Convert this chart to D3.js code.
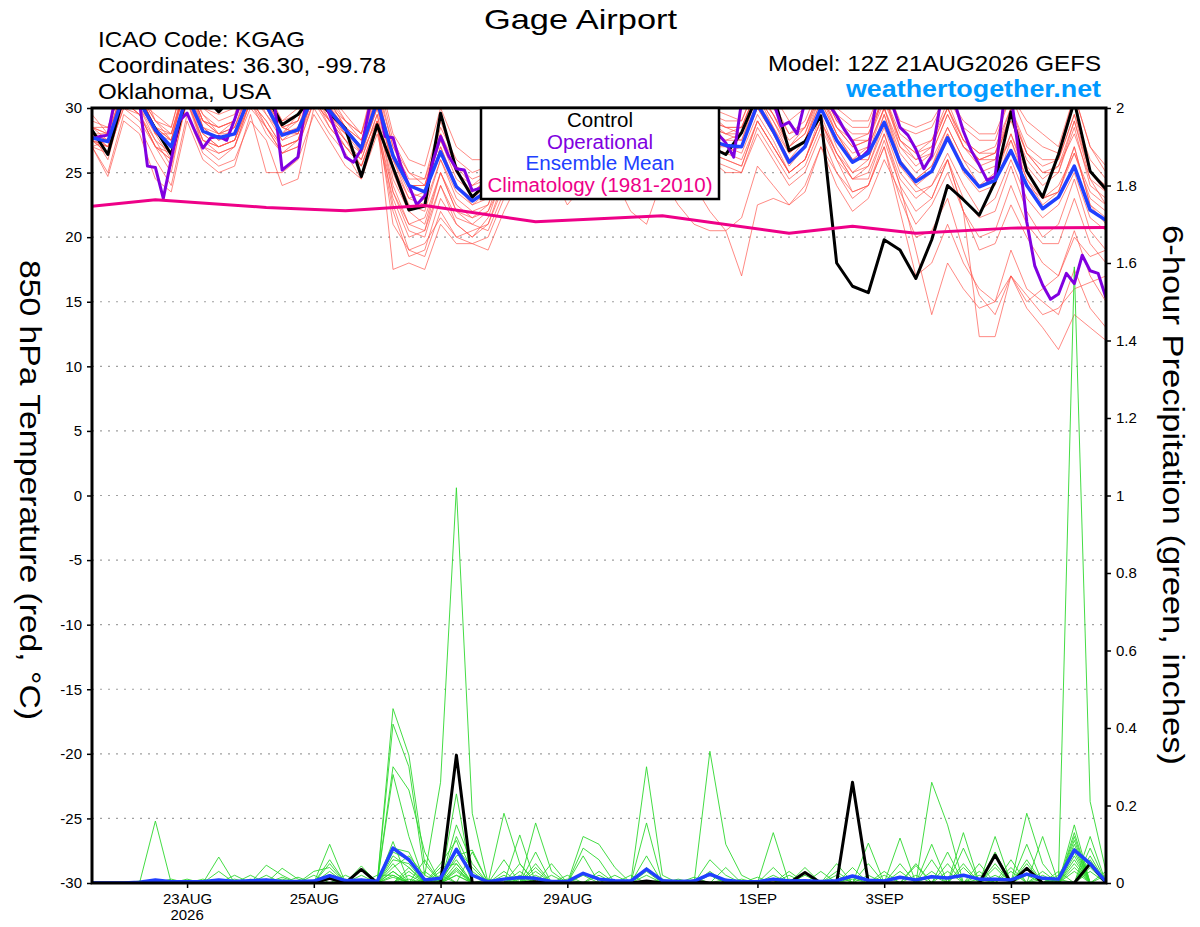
<!DOCTYPE html>
<html>
<head>
<meta charset="utf-8">
<title>Gage Airport – GEFS meteogram</title>
<script src="https://cdn.jsdelivr.net/npm/d3@7"></script>
<style>
  body { margin: 0; background: #fff; }
  svg  { display: block; font-family: "Liberation Sans", Arial, Helvetica, sans-serif; }
</style>
</head>
<body>
<svg id="chart" width="1200" height="927"></svg>
<script>
// ── Run / axes data ───────────────────────────────────────────────────────────
const RUN_START   = Date.UTC(2026, 7, 21, 12);  // 12Z 21AUG2026
const STEP_H      = 6;                           // ensemble output step (h)
const OPER_STEP_H = 3;                           // operational output step (h)

const tempTicks   = [-30, -25, -20, -15, -10, -5, 0, 5, 10, 15, 20, 25, 30];
const gridTemps   = [-25, -20, -15, -10, -5, 0, 5, 10, 15, 20, 25];
const precipTicks = [0, 0.2, 0.4, 0.6, 0.8, 1, 1.2, 1.4, 1.6, 1.8, 2];
const dateTicks   = ['2026-08-23', '2026-08-25', '2026-08-27', '2026-08-29',
                     '2026-09-01', '2026-09-03', '2026-09-05'];
const MONTHS      = ['JAN','FEB','MAR','APR','MAY','JUN','JUL','AUG','SEP','OCT','NOV','DEC'];

const legendLabels = ['Control', 'Operational', 'Ensemble Mean', 'Climatology (1981-2010)'];
const legendColors = ['#000000', '#8000e0', '#2040ff', '#ee0088'];

// ── 850 hPa temperature (°C) ──────────────────────────────────────────────────
const ctrlTemp = [28.3,26.4,31,30.5, 28.4,26.4,31,31, 29.7,31,31.5,31, 28.7,29.5,31,29.6,
  28.4,24.7,28.7,25.4, 22.1,22.4,29.6,25.2, 23.1,24.3,27.5,29.5, 31,30.5,28,29.5,
  31,30,27.5,28.5, 30.5,29,26.5,27, 26.4,28.1,31,31, 26.7,27.4,29.4,18.0,
  16.2,15.7,19.8,19.0, 16.8,19.8,24.0,22.9, 21.7,24.3,29.7,25.1, 23.1,26.4,30.5,25.1, 23.7];

// operational run, every 3 h
const operTemp = [27.6,27.8,27.9,31,32,31,30.5,25.5,25.4,23.0,26.0,29.0,29.6,
  28.2,26.9,27.7,27.8,27.5,29.1,31,32,31.5,31,30.5,25.2,25.7,26.2,30.5,32,31,
  29.5,27.8,26.2,25.8,26.8,30,31,27.8,27.7,25.5,24,22.5,23.2,25.8,27.8,26.3,25.3,25.2,23.6,23.8,24.5,
  26.5,28,30.5,31,29,27.5,28,30,31,30.5,29,28,27.5,29,31,32,30.5,28.5,27.5,28.5,30.5,31,30,28.5,27.5,28,29.5,29,
  28,27.3,26.2,30.5,32,32,31,30.5,28.6,28.9,28.0,30.5,32,31,30.3,29.4,28.3,27.4,26.1,26.7,
  30.5,31.5,30.3,28.5,27.9,26.8,25.3,26.3,30,31.5,30.2,28.2,26.7,25.6,24.4,24.7,30,31,
  26.5,21.2,17.8,16.3,15.2,15.6,17.2,16.4,18.6,17.4,17.2,15.3];

const meanTemp = [27.7,27.4,31,30.5, 28.3,27.0,31,28.2, 27.7,28.0,31,30.2, 27.9,28.3,31,29.8,
  28.3,26.9,30.5,26.3, 24.0,23.5,26.6,23.9, 22.8,23.6,26,28, 29.5,28.5,27,28,
  29.5,28.5,26.5,27.5, 29.5,28,27,27.5, 27.1,27.0,30.3,28.2, 25.8,27.0,30,27.5,
  25.8,26.5,28.9,25.8, 24.3,25.1,27.7,25.3, 23.9,24.4,26.7,24.0, 22.2,23.1,25.5,22.1, 21.3];

// climatology is given at a few 6-hourly steps
const climSteps = [0, 4, 11, 16, 21, 28, 36, 44, 48, 52, 58, 64];
const climTemp  = [22.4, 22.9, 22.3, 22.05, 22.45, 21.2, 21.65, 20.3, 20.85, 20.3, 20.7, 20.75];

// 20 perturbed members, every 6 h
const memberTemp = [
  [28.5,27.5,32,31, 29,27.5,32,29, 28.5,29,32,30.5, 28,29,32,30, 29,27.5,31.5,27, 25,24.5,28,25.5, 24,25,27.5,29.5, 31,29.5,28,29, 31,29.5,27.5,28.5, 31,29,28,28.5, 28,28.5,31.5,29.5, 27,28.5,31,28.5, 27.5,28,31,27.5, 26.5,27.5,30,27, 26,26.5,29,26, 24.5,25.5,28,24.5, 23.5],
  [28,26,30.5,29.5, 27,25,31,27.5, 27,27.5,30.5,29, 27,27.5,31,29, 27.5,25.5,28.5,22, 18.5,19,23,21, 20,21.5,25,27, 29,28,26,27, 29.5,28,25.5,27, 29,27.5,26,26.5, 26,25.5,29,27, 25,26,29,26.5, 24.5,25,28,24.5, 23,24,26.5,24, 22,23,26,23, 21.5,22.5,25,21.5, 20.5],
  [27,27.5,31.5,30, 28.5,28,32.5,28.5, 28,28.5,31.5,31, 28.5,28,32,29.5, 28,27,30.5,26, 23,22.5,26,23.5, 22.5,23,26,28.5, 30,29,27.5,28.5, 30,29,27,28, 30,28.5,27,28, 27.5,27.5,30.5,28.5, 26,27.5,30.5,28, 26.5,27,30,26.5, 25,26,28.5,26, 25,25.5,27.5,24.5, 23,24,26.5,23, 22],
  [28.5,28,32.5,31.5, 28,26,31.5,28, 27,27.5,31,30, 27.5,28.5,31.5,30.5, 28.5,26.5,29,17.5, 18,17.5,21,19.5, 19.5,19,22,24.5, 26,25,23.5,25, 27.5,26,24,25.5, 28,27,25.5,27, 26.5,27,30,28, 25.5,27,30,27, 25,26,29.5,25.5, 24.5,25.5,28,25.5, 24,25,28,25, 23,23.5,26.5,23.5, 22.5],
  [28,27,31,30.5, 29.5,28.5,33,30, 29.5,30,33,31, 29,30,33,31, 29.5,28,33,28, 26,25.5,30,27, 26,26,29,31, 32,31,29,30, 32,31,29,30, 32,30.5,29,30, 29.5,29,32,31, 29,30,32,30, 29,29,32,29, 28.5,29,31,29, 28,28,31,29, 28,27,31,27, 25],
  [27.5,26.5,30,29, 27,26.5,30.5,27, 26,27,30,28.5, 26.5,27,30.5,28.5, 27,26,29.5,24, 21,21.5,25,22.5, 21.5,22,24.5,26.5, 28,27,25.5,26.5, 28.5,27.5,25,26.5, 28.5,27,25.5,26, 25.5,25,28,26, 24,25,28,25, 23,24,27,22, 17,18,21,18, 16,15,19,16, 15,14,17.5,14.5, 13],
  [29,28.5,32,31, 28.5,27,31.5,29.5, 28.5,29,32.5,30, 28,29.5,32,30, 28.5,27.5,31,25, 22,23,27,24, 23,24,27,29, 30.5,29.5,28,29, 30.5,29.5,27.5,28.5, 30.5,29,27.5,28.5, 28,28,31,29, 26.5,27.5,31,28, 26,27,30,27, 25.5,26.5,29.5,27, 25.5,26,29.5,25.5, 24,25,28.5,24, 23],
  [27,25,29.5,28.5, 26,24,29.5,26.5, 25.5,26,29,27.5, 24,24.5,30,28, 26.5,24.5,28,23, 20,20.5,24,21.5, 21,20.5,23.5,25.5, 27,26,24,25.5, 27,26,24,25, 27,25.5,24,22, 20.5,17,22.5,23, 22.5,24,27,25, 23.5,24,27.5,24, 22,23,26,23, 21.5,22,25.5,22, 20,21,24.5,20.5, 19],
  [28,27.5,31,31.5, 28,27.5,32,28.5, 27.5,28.5,32,29.5, 28,28,31.5,29, 28,27,30.5,26.5, 24,24,27.5,24.5, 23.5,24.5,27.5,29.5, 30.5,30,28.5,29.5, 31,30,28,29, 31,29.5,28,29, 28,27.5,31,29, 27,28,31,28.5, 27,27.5,31,27.5, 26,27,30,27.5, 26.5,27,30,27, 26,26,29.5,26, 24.5],
  [27.5,27,30.5,30, 27.5,26.5,31,28, 27,27.5,31,28.5, 27,27.5,31,29.5, 27.5,26.5,30,24.5, 22,21,25,22, 21.5,22.5,26,27.5, 29,28.5,26.5,27.5, 29.5,28.5,26,27, 29,27.5,26.5,27, 27,26.5,29.5,27.5, 25,26,29,26.5, 25,25.5,28.5,25, 23.5,24,26,22, 19,19.5,22.5,20, 18,17,20.5,17, 15],
  [29.5,28,33,32, 29,28.5,33,30, 29,29.5,33,31.5, 29,29.5,33,31, 29,28,32.5,27.5, 25,24,28.5,26, 25,25.5,28.5,30.5, 31.5,30.5,29,30.5, 32,31,28.5,30, 32,30.5,28.5,29.5, 29,29,32,30.5, 28,29,32,29.5, 28.5,28.5,32,28.5, 28,28.5,31,28.5, 27.5,27.5,31,28, 27,26.5,31,27, 25.5],
  [27,26.5,30,29.5, 27.5,25.5,30.5,27.5, 26.5,27,30.5,28, 26.5,27,30.5,29, 27,25.5,29,21, 19,18.5,22,20, 20.5,21,24,26, 27.5,26.5,25,26, 28,27,24.5,26, 28,26.5,25,26, 25,25,28.5,26.5, 24.5,25.5,28.5,26, 23.5,24,27,23, 20,20.5,23,19, 15.5,14,17,14.5, 13,11.3,14,13, 12],
  [28.5,28,31.5,30.5, 28,28,32,29, 28,28,31.5,30.5, 28.5,28,31.5,30, 28.5,27.5,31.5,26, 23.5,23,27,24, 22.5,23.5,27,29, 30,29,27,28.5, 30,29,27,28, 30,28.5,27.5,28.5, 27.5,28,31,28.5, 26.5,27.5,30.5,28, 26,26.5,30,26, 24.5,25.5,28.5,26, 24,24.5,28,24.5, 22.5,23.5,27,22.5, 21.5],
  [27,24.7,29,28, 24.5,23.5,29,26, 25,25.5,29.5,25, 25,26,29.5,27.5, 25.5,24.5,28.5,23.5, 20.5,20,24,21, 20,21,24.5,26.5, 28,27.5,25.5,26.5, 28.5,27,25,26, 28.5,27,25.5,26.5, 26,25.5,29,27, 25,26,29.5,26.5, 24.5,25.5,29,25.5, 24,25,28,25, 23.5,24,27.5,24, 23,23.5,27,22.5, 21],
  [28,27,31,30, 28,27,31.5,28.5, 27.5,28,31,29.5, 27.5,28,31.5,29.5, 28,26.5,30,25.5, 22.5,22,26,23, 22,22.5,25.5,28, 29.5,28.5,26.5,28, 29.5,28.5,26,27.5, 29.5,28,26.5,27.5, 27,27,30,28, 26,27,30,27.5, 26,26,29.5,26, 24,23,26,22, 12.3,12.3,17,15, 16,17,20,18.5, 19],
  [28.5,28.5,32,31, 29,28,32,29, 28.5,29,32,30.5, 28.5,29,32.5,30.5, 29,28,32,27, 24.5,24.5,29,25.5, 24.5,25,28,30, 31,30,28.5,29.5, 31,30,28,29.5, 31.5,30,28.5,29.5, 28.5,28.5,31.5,30, 28,28.5,31.5,29, 28,28,31,28, 27,27.5,30.5,27.5, 26.5,26.5,30,26.5, 25.5,26,29.5,25, 24],
  [27.5,27,30.5,29.5, 27,26,31,27, 26.5,27,30.5,28.5, 26.5,27.5,31,28.5, 27,25.5,29,22.5, 19,19.5,21.5,20, 19.5,20,23,25, 26,25,22.5,24, 25.5,24.5,22,21, 24.5,22.5,21,20.5, 20.5,21.5,25.5,24, 22.5,23.5,27,24, 22,23,26,23.5, 21,22.5,25,22, 20,20.5,24,21, 19.5,19.5,23,19.5, 18],
  [28,28,31.5,30.5, 28.5,27.5,32,29, 28,28.5,31.5,30, 28,28.5,32,30, 28.5,27,30.5,25.5, 23,23.5,27.5,25, 24,24.5,27.5,29, 31,30,28,29, 30.5,29.5,27.5,29, 30.5,29,28,29, 28.5,28,31,29.5, 27.5,28.5,31.5,29, 27.5,27.5,31,27, 26,26.5,29.5,27, 26,26,29.5,26.5, 25,25,29,25, 23.5],
  [27.5,26.5,30.5,29.5, 27,26,30.5,27.5, 27,27.5,30.5,29, 27,27.5,30.5,29, 27.5,26,29.5,23.5, 21,20.5,25,22, 21,22,25.5,27.5, 28.5,28,26,27, 29,28,25.5,27, 29,28,26,27, 26.5,26,29,27, 25,26,29,26, 24.5,24.5,28,24, 19,14,18,16, 14.5,15,17,15.5, 14,14.5,16,16.5, 17],
  [28,27.5,31.5,31, 28.5,27.5,32.5,29.5, 28,29,32.5,30.5, 28.5,29,32.5,30.5, 28.5,27,31,26.5, 24,24,28,25, 23.5,24.5,28,30, 31.5,30,28,29.5, 31,30,28,29, 31,29.5,28,29, 28.5,28.5,31.5,29.5, 27,28,31.5,28.5, 27,27.5,30.5,27.5, 26.5,27,30,27.5, 26,26.5,29.5,26.5, 25,25.5,29,24.5, 22.5]
];

// ── 6-hour precipitation (inches) ─────────────────────────────────────────────
const ctrlPrecip = [0,0,0,0, 0,0,0,0, 0,0,0,0, 0,0,0,.012, 0,.035,0,0, 0,0,0,.33, 0,0,0,0,
  .003,0,0,0, 0,0,0,.005, 0,0,.005,0, 0,0,0,0, 0,.027,0,0, .26,0,0,0, 0,0,0,0,
  0,.072,0,.038, 0,0,0,.05, 0];

const meanPrecip = [0,0,0,.002, .008,.003,.003,.003, .008,.004,.006,.008, .004,.004,.005,.019,
  .006,.008,.004,.09, .06,.008,.012,.087, .02,.003,.01,.014, .012,.004,.004,.025,
  .01,.006,.005,.036, .006,.004,.005,.023, .007,.003,.003,.01, .005,.006,.004,.006,
  .018,.007,.005,.015, .008,.016,.013,.02, .01,.01,.008,.023, .012,.01,.085,.05, .003];

const memberPrecip = [
  [0,0,0,0, .16,0,0,0, 0,0,0,0, 0,0,0,0, 0,0,0,.45, .33,.05,0,0, 0,0,0,.05, 0,0,0,0, 0,0,0,.02, 0,0,0,0, 0,0,0,0, 0,0,0,0, 0,0,0,0, 0,.26,.15,0, 0,.05,0,0, 0,0,.08,0, 0],
  [0,0,0,0, 0,0,0,0, 0,0,0,0, 0,0,0,0, 0,0,0,.41, .30,.02,.26,1.02, .18,0,0,0, 0,0,0,.12, .10,.04,0,0, 0,0,0,0, 0,0,0,0, 0,0,0,.05, 0,0,0,0, 0,0,0,0, 0,0,0,.18, .05,0,0,0, 0],
  [0,0,0,0, 0,0,0,0, 0,0,0,0, 0,0,0,0, 0,0,0,.30, .24,.08,0,.23, 0,0,0,0, .155,.03,0,0, 0,0,0,.30, .02,0,0,0, 0,0,0,0, .02,0,0,0, 0,0,0,0, 0,0,0,.13, 0,0,0,0, 0,.01,1.59,.21, .03],
  [0,0,0,0, 0,0,0,0, 0,0,0,0, 0,0,0,0, 0,0,0,.28, .12,0,0,0, .08,0,.18,.05, 0,0,0,0, 0,0,0,0, 0,0,0,.34, .10,.02,0,0, 0,0,0,0, 0,0,0,0, .05,0,0,0, 0,.12,0,0, 0,0,0,.12, 0],
  [0,0,0,0, 0,0,0,0, .067,0,0,0, 0,0,0,.10, 0,0,0,.107, 0,0,.05,.11, 0,0,0,.124, 0,0,0,0, 0,0,0,.155, 0,0,0,0, 0,0,0,.13, 0,0,0,0, 0,0,0,.116, 0,0,0,0, .05,0,0,0, 0,0,.12,0, 0],
  [0,0,0,0, 0,0,0,0, 0,0,0,.046, .02,0,0,.06, 0,0,0,.08, .06,0,0,.07, .085,0,0,0, .08,0,0,.09, .06,0,0,0, 0,0,0,0, .04,0,0,0, 0,0,0,0, 0,.103,0,0, 0,.10,0,0, 0,0,.06,0, 0,0,.15,0, 0],
  [0,0,0,0, 0,0,0,0, 0,0,0,0, .038,.01,0,0, 0,.044,0,.05, 0,.03,0,.05, 0,0,0,0, .05,0,0,0, 0,0,0,.07, 0,0,0,0, 0,0,0,0, 0,.04,0,0, 0,0,0,0, 0,0,.08,0, 0,0,0,.10, 0,0,.10,0, 0],
  [0,0,0,0, 0,0,0,0, 0,.02,0,0, 0,0,.03,.04, 0,0,0,0, .04,0,.02,0, 0,0,.06,0, 0,0,.02,0, 0,0,0,0, 0,0,0,.03, 0,0,0,0, 0,0,0,0, .04,0,0,0, 0,0,0,.09, 0,0,0,0, .12,0,0,.09, 0],
  [0,0,0,0, 0,0,.01,0, 0,0,.02,0, 0,0,0,0, .02,0,0,.03, 0,.06,0,.04, 0,0,0,0, 0,.05,0,0, 0,0,0,0, .01,0,0,0, 0,0,0,.04, 0,0,0,0, 0,0,.03,0, 0,0,0,0, 0,.08,0,0, 0,0,.13,0, 0],
  [0,0,0,0, 0,0,0,0, 0,0,0,0, 0,.015,0,.03, 0,0,.02,.02, 0,0,0,.15, .05,0,0,.03, 0,0,0,0, 0,.02,0,0, 0,0,.015,0, 0,0,0,0, 0,0,0,.03, 0,0,0,0, .045,0,0,0, .02,0,0,.06, 0,0,.06,0, 0],
  [0,0,0,0, 0,.01,0,0, 0,0,0,.02, 0,0,0,0, 0,.02,0,.06, .05,0,.01,.06, 0,0,0,0, .02,0,0,.07, 0,0,0,.04, 0,0,0,0, 0,0,0,0, .03,0,0,0, 0,0,0,.05, 0,.06,0,0, 0,0,0,0, 0,.03,0,.06, 0],
  [0,0,0,0, 0,0,0,0, .03,0,0,0, .015,0,0,.05, 0,0,0,0, .03,0,0,.03, 0,.01,0,.02, 0,0,0,0, 0,0,0,0, 0,.01,0,0, 0,.01,0,0, 0,0,.03,0, 0,0,0,0, 0,0,.05,0, 0,0,.04,0, 0,0,.07,0, 0],
  [0,0,0,0, 0,0,0,.01, 0,0,0,0, 0,0,.02,0, 0,0,0,.04, .07,.02,0,0, 0,0,.03,0, .04,0,0,0, 0,0,.02,0, 0,0,0,0, 0,0,.015,0, 0,0,0,0, 0,.05,0,0, 0,0,0,.04, 0,0,0,0, .03,0,0,.04, 0],
  [0,0,0,.005, 0,0,0,0, 0,.01,0,0, 0,0,0,0, .01,0,0,.015, 0,0,0,.09, .04,0,0,0, 0,0,.01,0, 0,0,0,0, 0,0,0,.06, .02,0,0,0, 0,0,0,0, .015,0,0,0, 0,.03,0,0, 0,0,0,.05, 0,0,.05,0, .03],
  [0,0,0,0, 0,0,0,0, 0,0,.01,0, 0,0,0,.02, 0,0,0,0, .02,0,.04,.05, 0,0,0,0, 0,.02,0,0, .02,0,0,0, 0,0,0,0, 0,0,0,.02, 0,0,0,0, 0,0,.02,0, 0,0,0,0, .03,0,0,0, 0,.02,.09,0, 0],
  [0,0,0,0, .005,0,0,0, 0,0,0,0, .01,0,0,0, 0,.01,0,.07, .04,0,0,.02, 0,0,.02,0, 0,0,0,0, 0,0,0,0, .005,0,0,0, 0,0,0,0, 0,.02,0,0, 0,0,0,0, .02,0,0,0, 0,.04,0,0, .02,0,0,.07, 0],
  [0,0,0,0, 0,0,0,0, 0,0,0,0, 0,0,0,0, 0,0,0,.02, 0,.01,0,.12, .03,0,0,0, .03,0,0,0, 0,0,0,.03, 0,0,0,0, 0,0,0,0, 0,0,0,.02, 0,0,0,0, 0,0,.03,0, 0,0,.03,0, 0,0,.11,0, .02],
  [0,0,0,0, 0,0,0,0, 0,0,0,0, 0,0,0,.01, 0,0,0,.09, .08,0,.03,0, 0,0,0,.01, 0,0,0,0, .03,0,0,0, 0,0,0,0, .01,0,0,0, 0,0,0,0, 0,0,0,.03, 0,0,0,.05, 0,0,0,.02, 0,0,.04,0, 0],
  [0,0,0,0, 0,0,0,0, 0,0,0,.01, 0,0,0,0, 0,.005,0,0, .01,0,0,.035, 0,0,.01,0, 0,0,0,.02, 0,0,0,0, 0,0,0,.02, 0,0,0,0, 0,0,0,0, .01,0,0,0, 0,.02,0,0, 0,.02,0,0, 0,.01,0,.03, 0],
  [0,0,0,0, 0,0,0,0, 0,0,0,0, 0,0,.005,0, 0,0,0,.03, 0,0,0,.02, 0,0,0,0, .01,0,0,0, 0,0,0,0, 0,0,0,0, 0,0,0,0, .01,0,0,0, 0,.02,0,0, 0,0,0,0, .01,0,0,0, .01,0,.03,0, 0]
];

// ── Layout / scales ───────────────────────────────────────────────────────────
const M = { left: 92, right: 1106, top: 108, bottom: 883 };
const FONT = '"Liberation Sans", Arial, Helvetica, sans-serif';

const stepTime = (i, hours) => new Date(RUN_START + i * hours * 3600e3);

const x  = d3.scaleUtc().domain([stepTime(0, STEP_H), stepTime(64, STEP_H)]).range([M.left, M.right]);
const yT = d3.scaleLinear().domain([-30, 30]).range([M.bottom, M.top]);
const yP = d3.scaleLinear().domain([0, 2]).range([M.bottom, M.top]);

const tempLine   = hours => d3.line().x((d, i) => x(stepTime(i, hours))).y(d => yT(d));
const precipLine = d3.line().x((d, i) => x(stepTime(i, STEP_H))).y(d => yP(d));
const climLine   = d3.line().x((d, k) => x(stepTime(climSteps[k], STEP_H))).y(d => yT(d));

const svg = d3.select('#chart');

svg.append('defs').append('clipPath').attr('id', 'plot-clip')
  .append('rect')
    .attr('x', M.left).attr('y', M.top)
    .attr('width', M.right - M.left).attr('height', M.bottom - M.top);

// ── Grid ──────────────────────────────────────────────────────────────────────
svg.append('g')
  .selectAll('line')
  .data(gridTemps)
  .enter().append('line')
    .attr('x1', M.left).attr('x2', M.right)
    .attr('y1', d => yT(d)).attr('y2', d => yT(d))
    .attr('stroke', '#a0a0a0')
    .attr('stroke-width', 1.2)
    .attr('stroke-dasharray', '2,6');

// ── Series ────────────────────────────────────────────────────────────────────
const plot = svg.append('g').attr('clip-path', 'url(#plot-clip)');

plot.append('g')
  .selectAll('path')
  .data(memberTemp)
  .enter().append('path')
    .attr('d', tempLine(STEP_H))
    .attr('fill', 'none')
    .attr('stroke', '#ff5048')
    .attr('stroke-opacity', 0.75)
    .attr('stroke-width', 0.9);

plot.append('g')
  .selectAll('path')
  .data(memberPrecip)
  .enter().append('path')
    .attr('d', precipLine)
    .attr('fill', 'none')
    .attr('stroke', '#2fd82f')
    .attr('stroke-width', 0.9);

const thick = (data, gen, color, w) =>
  plot.append('path')
    .datum(data)
    .attr('d', gen)
    .attr('fill', 'none')
    .attr('stroke', color)
    .attr('stroke-width', w)
    .attr('stroke-linejoin', 'round');

thick(ctrlTemp,   tempLine(STEP_H),      '#000000', 3);
thick(ctrlPrecip, precipLine,            '#000000', 3);
thick(operTemp,   tempLine(OPER_STEP_H), '#8000e0', 3);
thick(meanTemp,   tempLine(STEP_H),      '#2040ff', 3.5);
thick(meanPrecip, precipLine,            '#2040ff', 3.5);
thick(climTemp,   climLine,              '#ee0088', 3);

// ── Axes ──────────────────────────────────────────────────────────────────────
function styleAxis(g) {
  g.select('.domain').remove();
  g.selectAll('.tick line').attr('stroke', '#000').attr('stroke-width', 1.5);
  g.selectAll('.tick text').attr('fill', '#000').attr('font-size', 15).attr('font-family', FONT);
}

svg.append('g')
  .attr('transform', `translate(${M.left},0)`)
  .call(d3.axisLeft(yT).tickValues(tempTicks).tickSize(5).tickPadding(5)
    .tickFormat(d => String(d)))
  .call(styleAxis);

svg.append('g')
  .attr('transform', `translate(${M.right},0)`)
  .call(d3.axisRight(yP).tickValues(precipTicks).tickSize(5).tickPadding(5)
    .tickFormat(d => String(+d.toFixed(1))))
  .call(styleAxis);

const tickDates = dateTicks.map(s => new Date(s + 'T00:00:00Z'));
const xAxis = svg.append('g')
  .attr('transform', `translate(0,${M.bottom})`)
  .call(d3.axisBottom(x).tickValues(tickDates).tickSize(5).tickPadding(5)
    .tickFormat(d => `${d.getUTCDate()}${MONTHS[d.getUTCMonth()]}`))
  .call(styleAxis);

xAxis.append('text')
  .attr('x', x(tickDates[0])).attr('y', 37)
  .attr('text-anchor', 'middle')
  .attr('font-size', 15).attr('font-family', FONT).attr('fill', '#000')
  .text(tickDates[0].getUTCFullYear());

// plot frame
svg.append('rect')
  .attr('x', M.left).attr('y', M.top)
  .attr('width', M.right - M.left).attr('height', M.bottom - M.top)
  .attr('fill', 'none').attr('stroke', '#000').attr('stroke-width', 3);

// ── Legend ────────────────────────────────────────────────────────────────────
const legend = svg.append('g');
legend.append('rect')
  .attr('x', 481).attr('y', M.top)
  .attr('width', 238).attr('height', 91)
  .attr('fill', '#fff').attr('stroke', '#000').attr('stroke-width', 2.5);

const legendWidths = [66, 106, 149, 225];
legend.selectAll('text')
  .data(legendLabels)
  .enter().append('text')
    .attr('x', 600)
    .attr('y', (d, i) => 127 + i * 21.6)
    .attr('text-anchor', 'middle')
    .attr('font-size', 19.5)
    .attr('fill', (d, i) => legendColors[i])
    .attr('textLength', (d, i) => legendWidths[i])
    .attr('lengthAdjust', 'spacingAndGlyphs')
    .text(d => d);

// ── Header text ───────────────────────────────────────────────────────────────
function label(txt, px, py, size, opts = {}) {
  const t = svg.append('text')
    .attr('x', px).attr('y', py)
    .attr('font-size', size)
    .attr('font-family', FONT)
    .attr('fill', opts.fill || '#000')
    .attr('font-weight', opts.weight || 'normal')
    .attr('text-anchor', opts.anchor || 'start')
    .text(txt);
  if (opts.len) t.attr('textLength', opts.len).attr('lengthAdjust', 'spacingAndGlyphs');
  if (opts.rotate) t.attr('transform', `rotate(${opts.rotate},${px},${py})`);
  return t;
}

label('Gage Airport', 580.5, 29, 28, { anchor: 'middle', len: 193 });
label('ICAO Code: KGAG', 98, 46.5, 22, { len: 207 });
label('Coordinates: 36.30, -99.78', 98, 72.5, 22, { len: 288 });
label('Oklahoma, USA', 98, 99, 22, { len: 173 });
label('Model: 12Z 21AUG2026 GEFS', 1101, 70.5, 22, { anchor: 'end', len: 333 });
label('weathertogether.net', 1101, 96.5, 23, { anchor: 'end', len: 255, weight: 'bold', fill: '#0099ff' });

label('850 hPa Temperature (red, °C)', 20, 490, 29, { anchor: 'middle', len: 460, rotate: 90 });
label('6-hour Precipitation (green, inches)', 1163, 495, 29, { anchor: 'middle', len: 540, rotate: 90 });
</script>
</body>
</html>
